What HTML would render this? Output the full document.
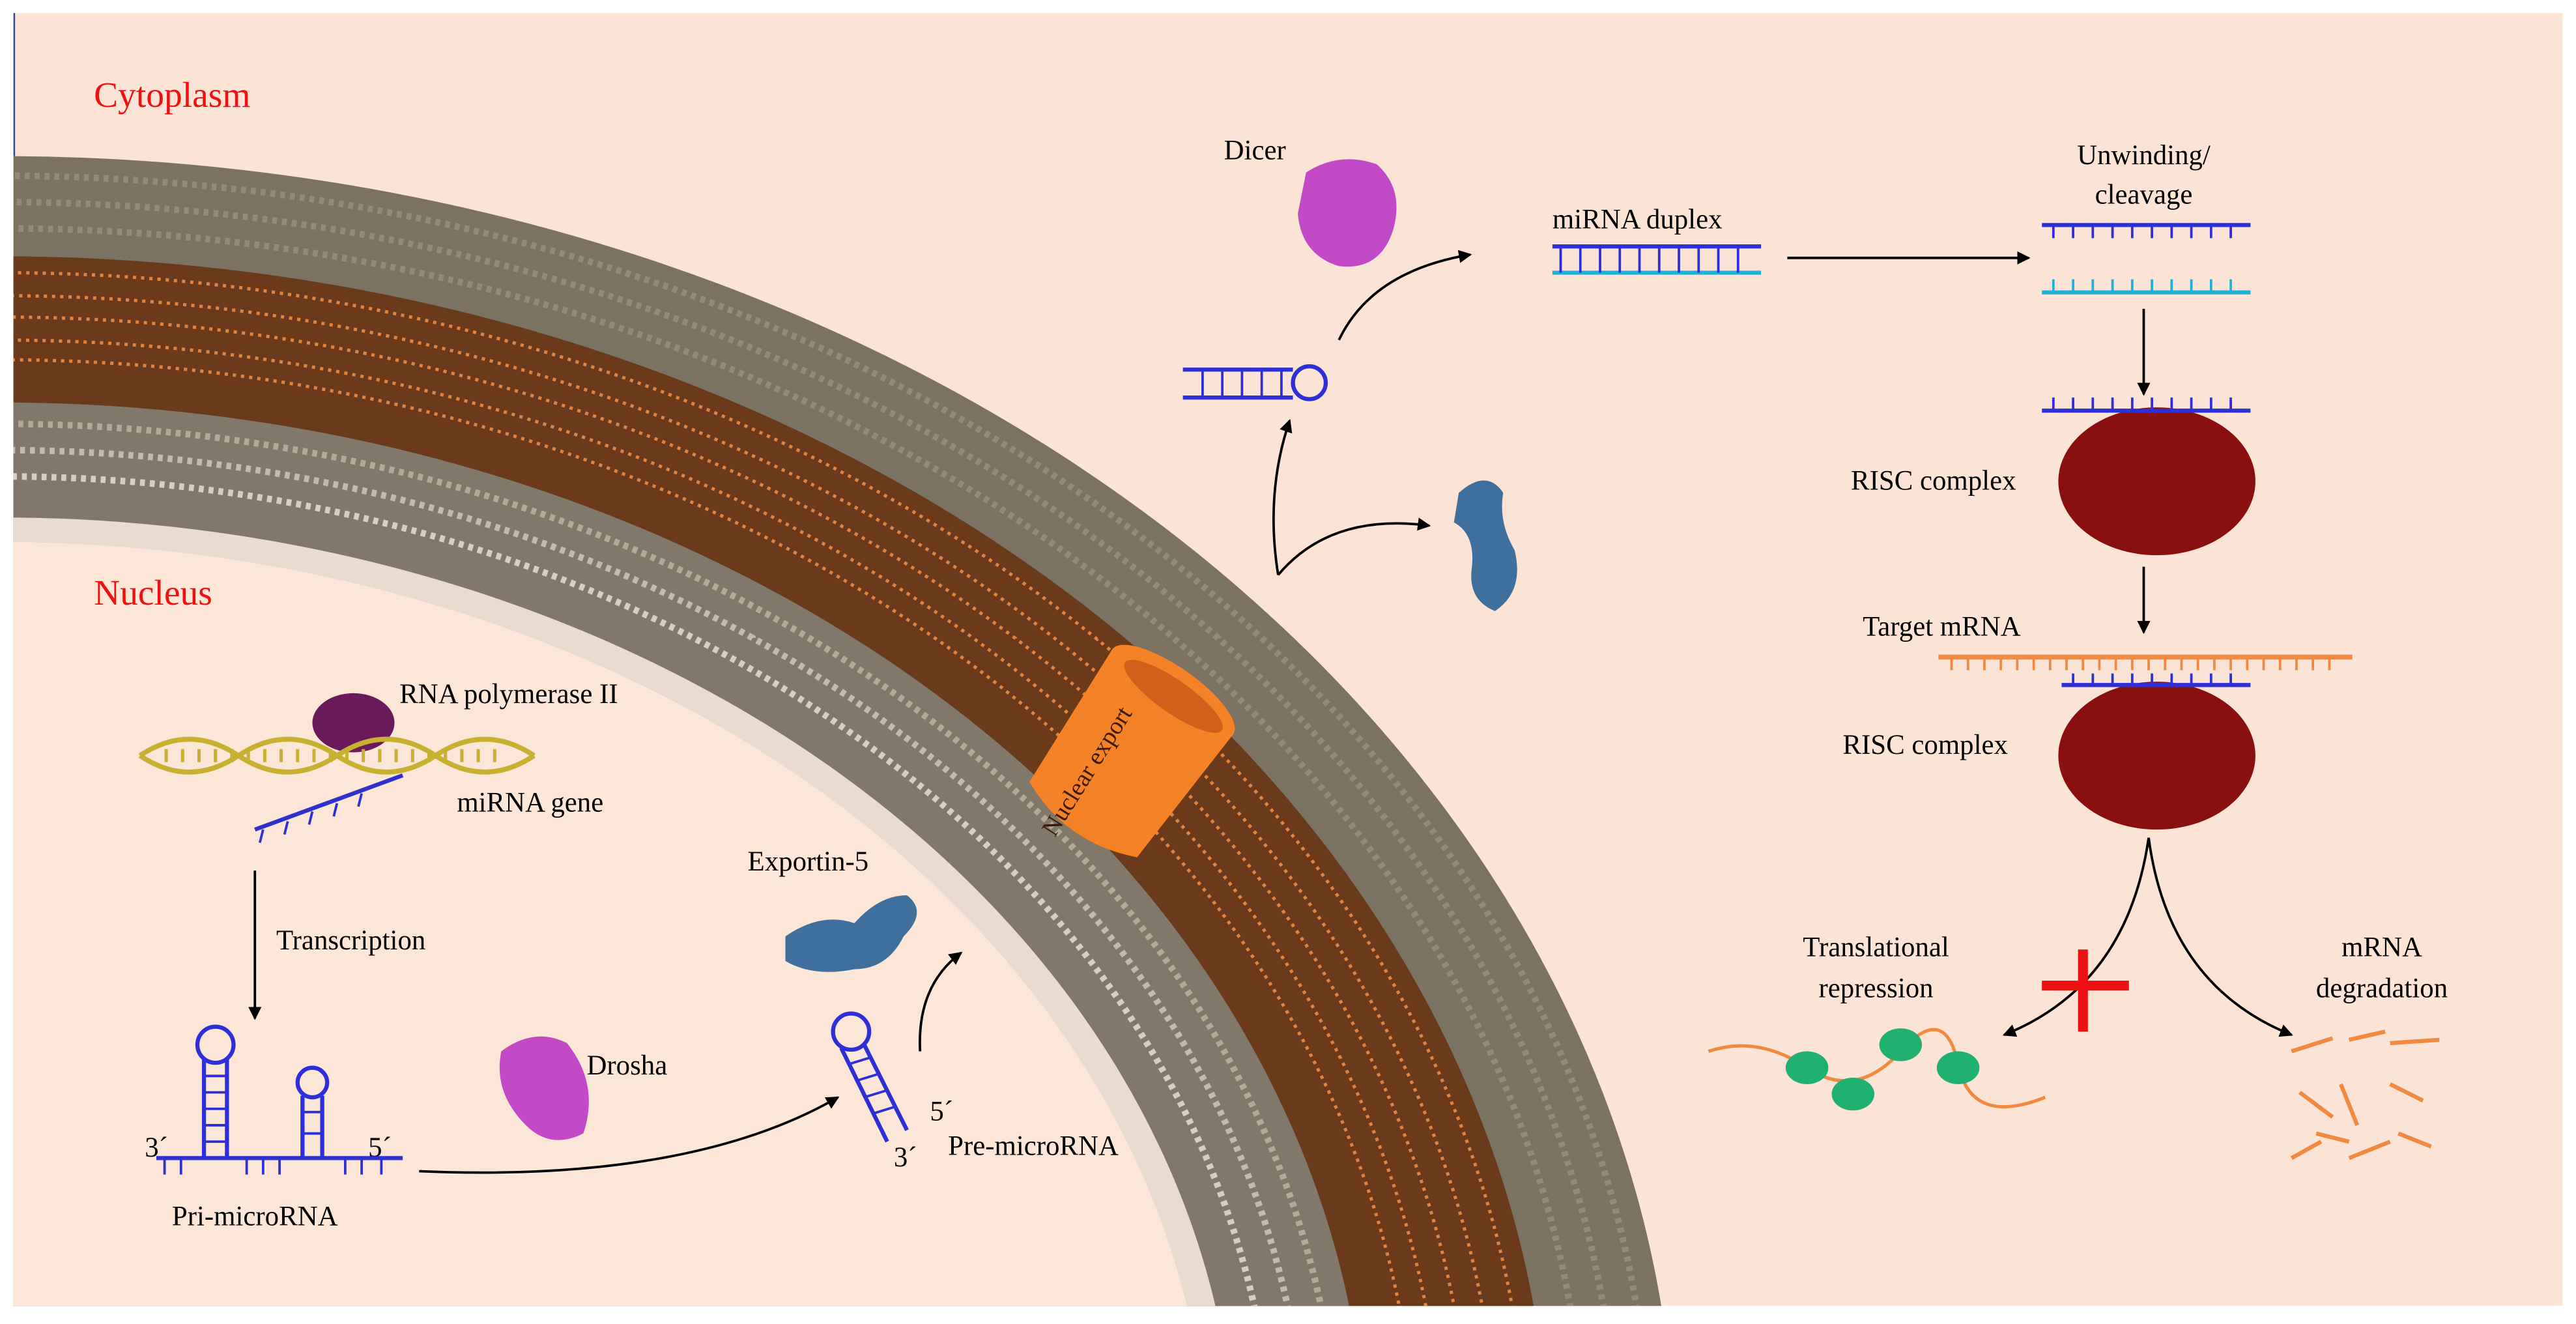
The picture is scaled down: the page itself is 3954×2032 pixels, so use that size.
<!DOCTYPE html>
<html><head><style>html,body{margin:0;padding:0;background:#fff;overflow:hidden;width:3954px;height:2032px}svg{display:block}</style></head>
<body>
<svg width="3954" height="2032" viewBox="0 0 1568 806" xmlns="http://www.w3.org/2000/svg" font-family="Liberation Serif, serif">
<defs>
<clipPath id="c"><rect x="8" y="8" width="1552" height="787"/></clipPath>
<marker id="a" markerWidth="8" markerHeight="8" refX="7" refY="4" orient="auto" markerUnits="userSpaceOnUse"><path d="M0,0L8,4L0,8z" fill="#000"/></marker>
</defs>
<rect x="0" y="0" width="1568" height="806" fill="#fff"/>
<rect x="8" y="8" width="1552" height="787" fill="#fbe4d5"/>
<line x1="8.5" y1="8" x2="8.5" y2="95" stroke="#3a4a8a" stroke-width="1"/>
<g clip-path="url(#c)">
<g transform="translate(0,900)">
<ellipse cx="0" cy="0" rx="1020" ry="805" fill="#7c7262"/>
<ellipse cx="0" cy="0" rx="1005" ry="793" fill="none" stroke="#948a78" stroke-width="4" stroke-dasharray="3 3"/>
<ellipse cx="0" cy="0" rx="985" ry="777" fill="none" stroke="#948a78" stroke-width="4" stroke-dasharray="3 3"/>
<ellipse cx="0" cy="0" rx="965" ry="761" fill="none" stroke="#948a78" stroke-width="4" stroke-dasharray="3 3"/>
<ellipse cx="0" cy="0" rx="943" ry="744" fill="#6a3a1a"/>
<ellipse cx="0" cy="0" rx="930" ry="734" fill="none" stroke="#e0843f" stroke-width="2" stroke-dasharray="2 3"/>
<ellipse cx="0" cy="0" rx="912" ry="720" fill="none" stroke="#e0843f" stroke-width="2" stroke-dasharray="2 3"/>
<ellipse cx="0" cy="0" rx="895" ry="707" fill="none" stroke="#e0843f" stroke-width="2" stroke-dasharray="2 3"/>
<ellipse cx="0" cy="0" rx="878" ry="693" fill="none" stroke="#e0843f" stroke-width="2" stroke-dasharray="2 3"/>
<ellipse cx="0" cy="0" rx="862" ry="681" fill="none" stroke="#e0843f" stroke-width="2" stroke-dasharray="2 3"/>
<ellipse cx="0" cy="0" rx="832" ry="655" fill="#82786a"/>
<ellipse cx="0" cy="0" rx="815" ry="642" fill="none" stroke="#b3a999" stroke-width="4" stroke-dasharray="3 3"/>
<ellipse cx="0" cy="0" rx="795" ry="626" fill="none" stroke="#c4baab" stroke-width="4" stroke-dasharray="3 3"/>
<ellipse cx="0" cy="0" rx="775" ry="610" fill="none" stroke="#d8cdbf" stroke-width="4" stroke-dasharray="3 3"/>
<ellipse cx="0" cy="0" rx="752" ry="585" fill="#eadbd0"/>
<ellipse cx="0" cy="0" rx="735" ry="570" fill="#fbe6d8"/>
</g>
</g>
<g transform="translate(688,458) rotate(35)">
<path d="M-45,-45 L-40,50 Q0,68 40,50 L45,-45 Z" fill="#f58226"/>
<ellipse cx="0" cy="-45" rx="45" ry="15" fill="#f58226"/>
<ellipse cx="2" cy="-43" rx="36" ry="10" fill="#d0601a"/>
</g>
<text x="0" y="0" font-size="15" fill="#3a1a05" transform="translate(642,510) rotate(-58)">Nuclear export</text>
<g font-size="17" fill="#000">
<text x="57" y="65" fill="#f01010" font-size="22">Cytoplasm</text>
<text x="57" y="368" fill="#f01010" font-size="22">Nucleus</text>
<text x="745" y="97">Dicer</text>
<text x="945" y="139">miRNA duplex</text>
<text x="1305" y="100" text-anchor="middle">Unwinding/</text>
<text x="1305" y="124" text-anchor="middle">cleavage</text>
<text x="1177" y="298" text-anchor="middle">RISC complex</text>
<text x="1182" y="387" text-anchor="middle">Target mRNA</text>
<text x="1172" y="459" text-anchor="middle">RISC complex</text>
<text x="1142" y="582" text-anchor="middle">Translational</text>
<text x="1142" y="607" text-anchor="middle">repression</text>
<text x="1450" y="582" text-anchor="middle">mRNA</text>
<text x="1450" y="607" text-anchor="middle">degradation</text>
<text x="243" y="428">RNA polymerase II</text>
<text x="278" y="494">miRNA gene</text>
<text x="168" y="578">Transcription</text>
<text x="88" y="704">3´</text>
<text x="224" y="704">5´</text>
<text x="155" y="746" text-anchor="middle">Pri-microRNA</text>
<text x="357" y="654">Drosha</text>
<text x="455" y="530">Exportin-5</text>
<text x="566" y="682">5´</text>
<text x="544" y="710">3´</text>
<text x="577" y="703">Pre-microRNA</text>
</g>
<path d="M795,105 Q815,92 838,100 Q855,115 848,140 Q840,165 815,162 Q792,155 790,130 Z" fill="#c24ac6"/>
<path d="M305,640 Q325,625 345,635 Q365,660 355,690 Q335,700 320,685 Q300,665 305,640Z" fill="#c24ac6"/>
<path d="M888,300 Q905,285 915,300 Q912,318 922,335 Q928,360 910,372 Q893,365 896,345 Q898,325 885,318Z" fill="#3f6f9c"/>
<path d="M478,570 Q500,555 520,562 Q535,545 552,545 Q565,555 550,570 Q540,590 520,590 Q495,595 478,585Z" fill="#3f6f9c"/>
<ellipse cx="1313" cy="293" rx="60" ry="45" fill="#8a1010"/>
<ellipse cx="1313" cy="460" rx="60" ry="45" fill="#8a1010"/>
<ellipse cx="215" cy="440" rx="25" ry="18" fill="#6a1a5a"/>
<path d="M85,460 Q115,440 145,460 T205,460 T265,460 T325,460" fill="none" stroke="#c8b030" stroke-width="3"/>
<path d="M85,460 Q115,480 145,460 T205,460 T265,460 T325,460" fill="none" stroke="#c8b030" stroke-width="3"/>
<line x1="100" y1="460" x2="310" y2="460" stroke="#c8b030" stroke-width="8" stroke-dasharray="2 8"/>
<path d="M155,505 L245,472" stroke="#3030d0" stroke-width="2.5"/>
<g fill="none" stroke-width="2.5">
<line x1="945" y1="150" x2="1072" y2="150" stroke="#2f2fd8"/>
<line x1="945" y1="166" x2="1072" y2="166" stroke="#20b0d8"/>
<path d="M950,150V166M962,150V166M974,150V166M986,150V166M998,150V166M1010,150V166M1022,150V166M1034,150V166M1046,150V166M1058,150V166" stroke="#2f2fd8" stroke-width="1.5"/>
<line x1="1243" y1="137" x2="1370" y2="137" stroke="#2f2fd8"/>
<path d="M1250,137v8M1262,137v8M1274,137v8M1286,137v8M1298,137v8M1310,137v8M1322,137v8M1334,137v8M1346,137v8M1358,137v8" stroke="#2f2fd8" stroke-width="1.5"/>
<line x1="1243" y1="178" x2="1370" y2="178" stroke="#20b0d8"/>
<path d="M1250,178v-8M1262,178v-8M1274,178v-8M1286,178v-8M1298,178v-8M1310,178v-8M1322,178v-8M1334,178v-8M1346,178v-8M1358,178v-8" stroke="#20b0d8" stroke-width="1.5"/>
<line x1="1243" y1="250" x2="1370" y2="250" stroke="#2f2fd8"/>
<path d="M1250,250v-8M1262,250v-8M1274,250v-8M1286,250v-8M1298,250v-8M1310,250v-8M1322,250v-8M1334,250v-8M1346,250v-8M1358,250v-8" stroke="#2f2fd8" stroke-width="1.5"/>
<line x1="1180" y1="400" x2="1432" y2="400" stroke="#f08a40" stroke-width="3"/>
<path d="M1188,400v8M1198,400v8M1208,400v8M1218,400v8M1228,400v8M1238,400v8M1248,400v8M1258,400v8M1268,400v8M1278,400v8M1288,400v8M1298,400v8M1308,400v8M1318,400v8M1328,400v8M1338,400v8M1348,400v8M1358,400v8M1368,400v8M1378,400v8M1388,400v8M1398,400v8M1408,400v8M1418,400v8" stroke="#f08a40" stroke-width="1.5"/>
<line x1="1255" y1="417" x2="1370" y2="417" stroke="#2f2fd8"/>
<path d="M1262,417v-7M1274,417v-7M1286,417v-7M1298,417v-7M1310,417v-7M1322,417v-7M1334,417v-7M1346,417v-7M1358,417v-7" stroke="#2f2fd8" stroke-width="1.5"/>
<path d="M720,225H787M720,242H787" stroke="#2f2fd8"/>
<circle cx="797" cy="233" r="10" stroke="#2f2fd8"/>
<path d="M732,225v17M744,225v17M756,225v17M768,225v17M780,225v17" stroke="#2f2fd8" stroke-width="1.5"/>
<path d="M95,705H245" stroke="#2f2fd8"/>
<path d="M124,705V645M138,705V645M184,705V667M196,705V667" stroke="#2f2fd8"/>
<circle cx="131" cy="636" r="11" stroke="#2f2fd8"/><circle cx="190" cy="659" r="9" stroke="#2f2fd8"/>
<path d="M124,655h14M124,665h14M124,675h14M124,685h14M124,695h14M184,677h12M184,690h12" stroke="#2f2fd8" stroke-width="1.5"/>
<path d="M100,705v10M110,705v10M150,705v10M160,705v10M170,705v10M210,705v10M220,705v10M232,705v10" stroke="#2f2fd8" stroke-width="1.5"/>
<circle cx="518" cy="628" r="11" stroke="#2f2fd8"/>
<path d="M512,638L540,695M526,636L552,688" stroke="#2f2fd8"/>
<path d="M516,648l13,-4M521,658l13,-4M526,668l13,-4M531,678l13,-4" stroke="#2f2fd8" stroke-width="1.5"/>
<path d="M160,505l-2,8M175,500l-2,8M190,494l-2,8M205,489l-2,8M220,483l-2,8" stroke="#2f2fd8" stroke-width="1.5"/>
<g stroke="#000" stroke-width="1.5" marker-end="url(#a)">
<path d="M1088,157H1235"/>
<path d="M1305,188V240"/>
<path d="M1305,345V385"/>
<path d="M1308,510Q1295,600 1220,630"/>
<path d="M1308,510Q1320,600 1395,630"/>
<path d="M815,207Q835,165 895,155"/>
<path d="M778,350Q770,300 785,256"/>
<path d="M778,350Q810,312 870,320"/>
<path d="M155,530V620"/>
<path d="M255,713Q420,720 510,668"/>
<path d="M560,640Q558,600 585,580"/>
</g>
</g>
<path d="M1243,600H1296M1268,578V628" stroke="#ee1111" stroke-width="6"/>
<path d="M1040,640Q1070,630 1100,650T1157,640T1192,648T1245,668" fill="none" stroke="#f08a40" stroke-width="2"/>
<g fill="#20b070"><ellipse cx="1100" cy="650" rx="13" ry="10"/><ellipse cx="1157" cy="636" rx="13" ry="10"/><ellipse cx="1192" cy="650" rx="13" ry="10"/><ellipse cx="1128" cy="666" rx="13" ry="10"/></g>
<g stroke="#f08a40" stroke-width="2.5" fill="none">
<path d="M1395,640l25,-8M1430,633l22,-5M1455,635l30,-2M1400,665l20,15M1425,660l10,25M1455,660l20,10M1410,690l20,5M1430,705l25,-10M1460,690l20,8M1395,705l18,-10"/>
</g>
</svg>
</body></html>
